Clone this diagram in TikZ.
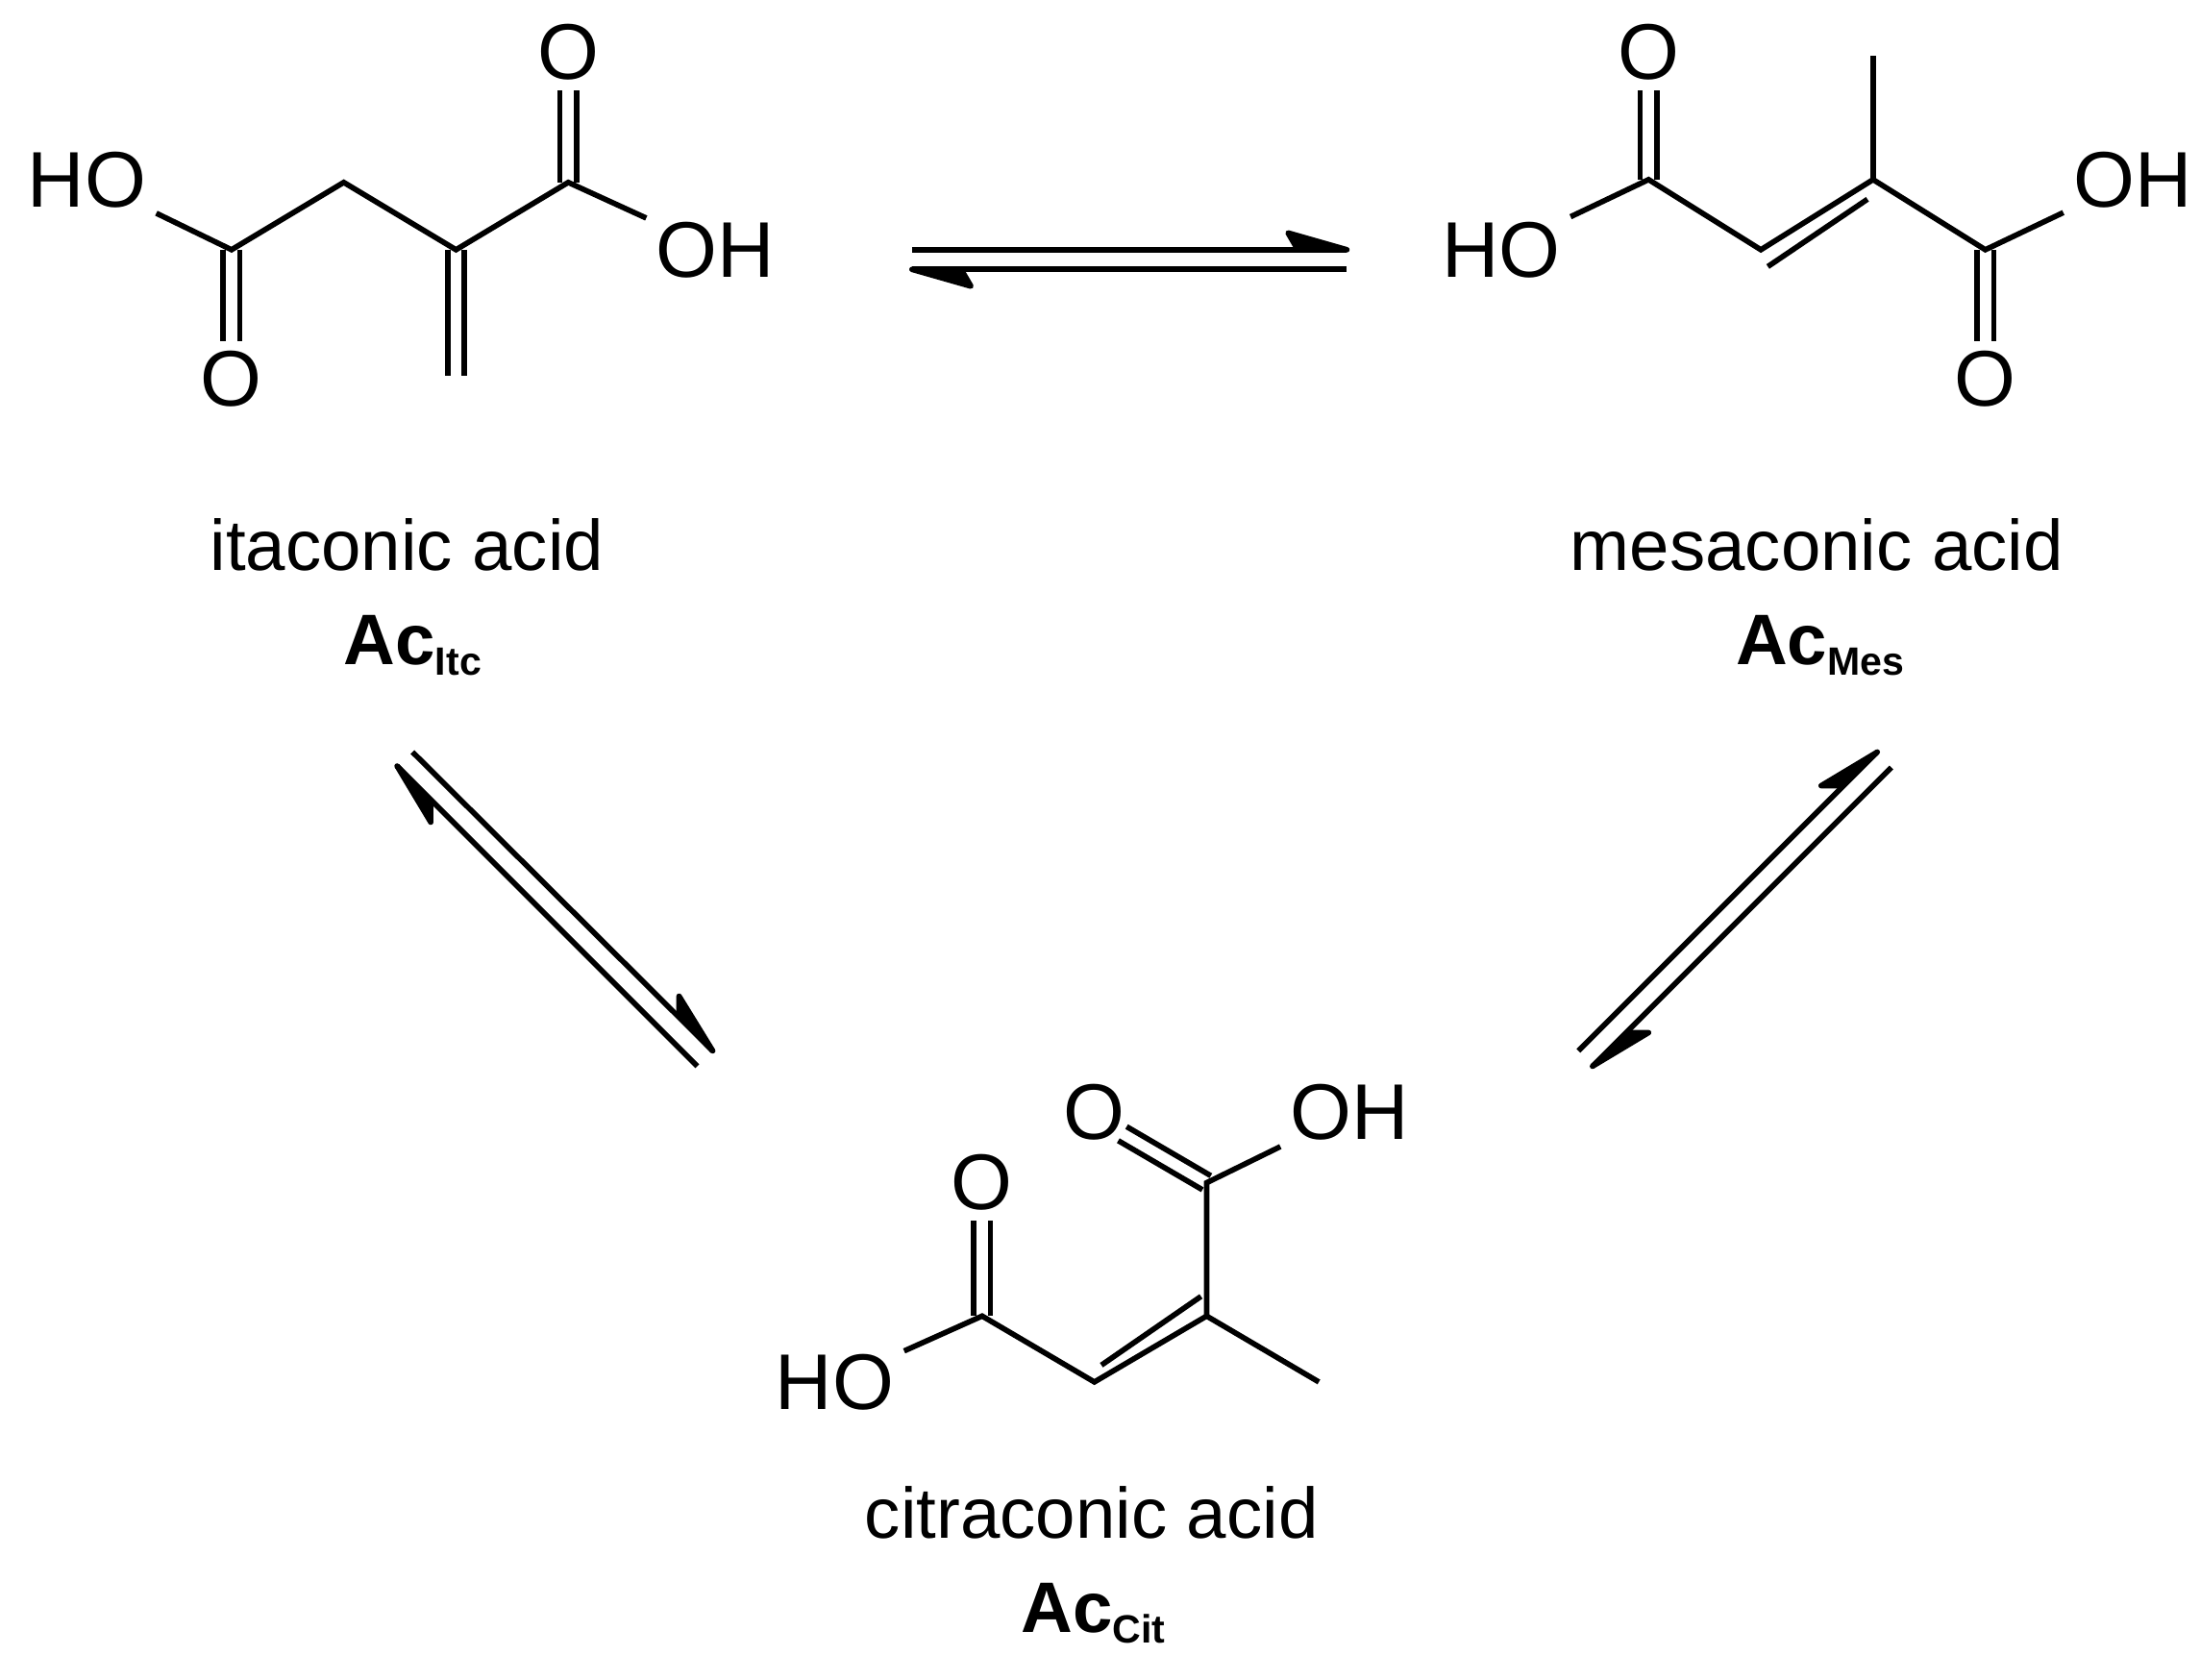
\documentclass[tikz,border=0pt]{standalone}
\usepackage{fontspec}
\setmainfont{Liberation Sans}
\begin{document}
\begin{tikzpicture}[x=0.01cm,y=-0.01cm,line width=1.1pt,
  atom/.style={inner sep=1.5pt,font=\fontsize{16}{18}\selectfont},
  lbl/.style={font=\fontsize{14.5}{18}\selectfont},
  barb/.style={fill=black,line join=round}]
\useasboundingbox (0,0) rectangle (1568,1197);
% ---------- itaconic acid ----------
\node[atom] (iHO) at (62,128) {HO};
\coordinate (i1) at (165,178);
\node[atom] (iO1) at (165,270) {O};
\coordinate (i2) at (245,130);
\coordinate (i3) at (325,178);
\coordinate (i4) at (405,130);
\node[atom] (iO2) at (405,37) {O};
\node[atom] (iOH) at (510,178) {OH};
\draw (iHO) -- (i1) -- (i2) -- (i3) -- (i4) -- (iOH);
\draw ([shift={(-6,0)}]i1) -- ([shift={(-6,0)}]iO1.north);
\draw ([shift={(6,0)}]i1) -- ([shift={(6,0)}]iO1.north);
\draw (i3) ++(-6,0) -- ++(0,90);
\draw (i3) ++(6,0) -- ++(0,90);
\draw ([shift={(-6,0)}]i4) -- ([shift={(-6,0)}]iO2.south);
\draw ([shift={(6,0)}]i4) -- ([shift={(6,0)}]iO2.south);
\node[lbl] (iname) at (290,388) {itaconic acid};
\node[lbl] (iac) at (295,460) {\textbf{Ac}$_{\mbox{\footnotesize\bfseries Itc}}$};
% ---------- mesaconic acid ----------
\node[atom] (mHO) at (1070,178) {HO};
\coordinate (m1) at (1175,128);
\node[atom] (mO1) at (1175,37) {O};
\coordinate (m2) at (1255,178);
\coordinate (m3) at (1335,128);
\coordinate (mMe) at (1335,40);
\coordinate (m4) at (1415,178);
\node[atom] (mO2) at (1415,270) {O};
\node[atom] (mOH) at (1520,128) {OH};
\draw (mHO) -- (m1) -- (m2) -- (m3) -- (m4) -- (mOH);
\draw (m3) -- (mMe);
\draw ([shift={(-6,0)}]m1) -- ([shift={(-6,0)}]mO1.south);
\draw ([shift={(6,0)}]m1) -- ([shift={(6,0)}]mO1.south);
\draw ([shift={(-6,0)}]m4) -- ([shift={(-6,0)}]mO2.north);
\draw ([shift={(6,0)}]m4) -- ([shift={(6,0)}]mO2.north);
\draw ([shift={(5,12)}]m2) -- ([shift={(-4,14)}]m3);
\node[lbl] (mname) at (1295,388) {mesaconic acid};
\node[lbl] (mac) at (1298,460) {\textbf{Ac}$_{\mbox{\footnotesize\bfseries Mes}}$};
% ---------- citraconic acid ----------
\node[atom] (cHO) at (595,985) {HO};
\coordinate (c1) at (700,938);
\node[atom] (cO1) at (700,843) {O};
\coordinate (c2) at (780,985);
\coordinate (c3) at (860,938);
\coordinate (cMe) at (940,985);
\coordinate (c4) at (860,843);
\node[atom] (cO2) at (780,793) {O};
\coordinate (cO2e) at (800,808);
\node[atom] (cOH) at (962,793) {OH};
\draw (cHO) -- (c1) -- (c2) -- (c3) -- (cMe);
\draw (c3) -- (c4) -- (cOH);
\draw ([shift={(-6,0)}]c1) -- ([shift={(-6,0)}]cO1.south);
\draw ([shift={(6,0)}]c1) -- ([shift={(6,0)}]cO1.south);
\draw ([shift={(3,-5)}]c4) -- ([shift={(3,-5)}]cO2e);
\draw ([shift={(-3,5)}]c4) -- ([shift={(-3,5)}]cO2e);
\draw ([shift={(5,-12)}]c2) -- ([shift={(-4,-14)}]c3);
\node[lbl] (cname) at (778,1078) {citraconic acid};
\node[lbl] (cac) at (780,1150) {\textbf{Ac}$_{\mbox{\footnotesize\bfseries Cit}}$};
% ---------- equilibrium arrows ----------
\coordinate (t1a) at (650,178); \coordinate (t1b) at (960,178);
\coordinate (t2a) at (650,192); \coordinate (t2b) at (960,192);
\draw (t1a) -- (t1b);
\draw[barb] (t1b) -- (918,166) -- (925,178) -- cycle;
\draw (t2a) -- (t2b);
\draw[barb] (t2a) -- (692,204) -- (685,192) -- cycle;
% left diagonal
\coordinate (l1a) at (294,536); \coordinate (l1b) at (508,749);
\coordinate (l2a) at (283,546); \coordinate (l2b) at (497,760);
\draw (l1a) -- (l1b);
\draw[barb] (l1b) -- (484,710) -- (484,724) -- cycle;
\draw (l2a) -- (l2b);
\draw[barb] (l2a) -- (307,586) -- (307,572) -- cycle;
% right diagonal
\coordinate (r1a) at (1125,749); \coordinate (r1b) at (1338,536);
\coordinate (r2a) at (1135,760); \coordinate (r2b) at (1348,547);
\draw (r1a) -- (r1b);
\draw[barb] (r1b) -- (1298,560) -- (1312,560) -- cycle;
\draw (r2b) -- (r2a);
\draw[barb] (r2a) -- (1175,736) -- (1161,736) -- cycle;
\end{tikzpicture}
\end{document}
